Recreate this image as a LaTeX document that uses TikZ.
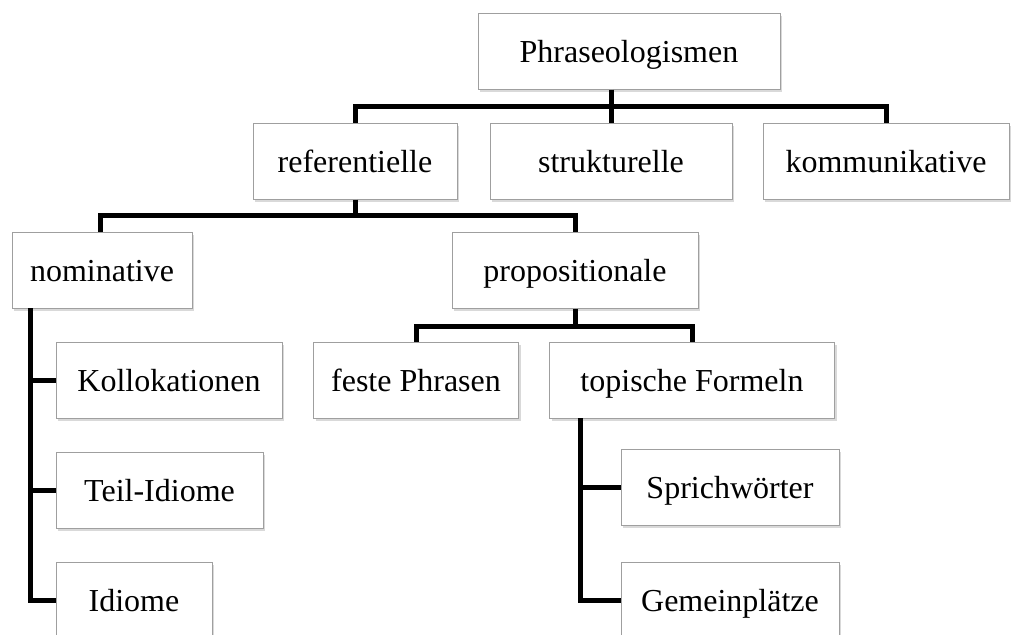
\documentclass[tikz,border=0pt]{standalone}
\usepackage{fontspec}
\setmainfont{Liberation Serif}
\usetikzlibrary{shadows}
\tikzset{
  box/.style={draw=gray!75, line width=0.5pt, fill=white, inner sep=0pt,
    minimum height=38pt, text height=14pt, text depth=3pt,
    font=\fontsize{16}{19}\selectfont,
    drop shadow={shadow xshift=1pt, shadow yshift=-1.5pt, opacity=0.3, fill=gray}},
  link/.style={line width=2.5pt, black}
}
\begin{document}
\begin{tikzpicture}[x=0.5pt, y=-0.5pt]
    % Fix the page size and cut off what hangs below
    \useasboundingbox (0,0) rectangle (1012,634);
    \clip (0,0) rectangle (1012,634);

    % Top level and the three groups
    \node[box, minimum width=151pt] (phr) at (629,51) {Phraseologismen};
    \node[box, minimum width=102pt] (ref) at (355,161) {referentielle};
    \node[box, minimum width=121pt] (str) at (611,161) {strukturelle};
    \node[box, minimum width=123pt] (kom) at (886,161) {kommunikative};

    % Second level under referentielle
    \node[box, minimum width=90pt] (nom) at (102,270) {nominative};
    \node[box, minimum width=123pt] (prop) at (575,270) {propositionale};

    % Third level
    \node[box, minimum width=113pt] (koll) at (169,380) {Kollokationen};
    \node[box, minimum width=103.5pt] (teil) at (159.5,490) {Teil-Idiome};
    \node[box, minimum width=78pt] (idi) at (134,600) {Idiome};
    \node[box, minimum width=102.5pt] (fest) at (416,380) {feste Phrasen};
    \node[box, minimum width=142.5pt] (topf) at (692,380) {topische Formeln};
    \node[box, minimum width=109pt] (spr) at (730,487) {Sprichwörter};
    \node[box, minimum width=109pt] (gem) at (730,600) {Gemeinplätze};

    % Trunks of the two side lists
    \coordinate (nomtrunk) at (30,308);
    \coordinate (topftrunk) at (580,418);

    % Connectors between the levels
    \draw[link] (str.north |- phr.south) -- (str.north);
    \draw[link] (ref.north) -- ++(0,-16) -| (kom.north);
    \draw[link] (ref.south) -- ++(0,17);
    \draw[link] ([xshift=-1pt]nom.north) -- ++(0,-16) -| (prop.north);
    \draw[link] (prop.south) -- ++(0,18);
    \draw[link] (fest.north) -- ++(0,-15) -| (topf.north);

    % Side lists
    \draw[link] (nomtrunk) |- (idi.west);
    \draw[link] (koll.west) -- (koll.west -| nomtrunk);
    \draw[link] (teil.west) -- (teil.west -| nomtrunk);
    \draw[link] (topftrunk) |- (gem.west);
    \draw[link] (spr.west) -- (spr.west -| topftrunk);
\end{tikzpicture}
\end{document}
